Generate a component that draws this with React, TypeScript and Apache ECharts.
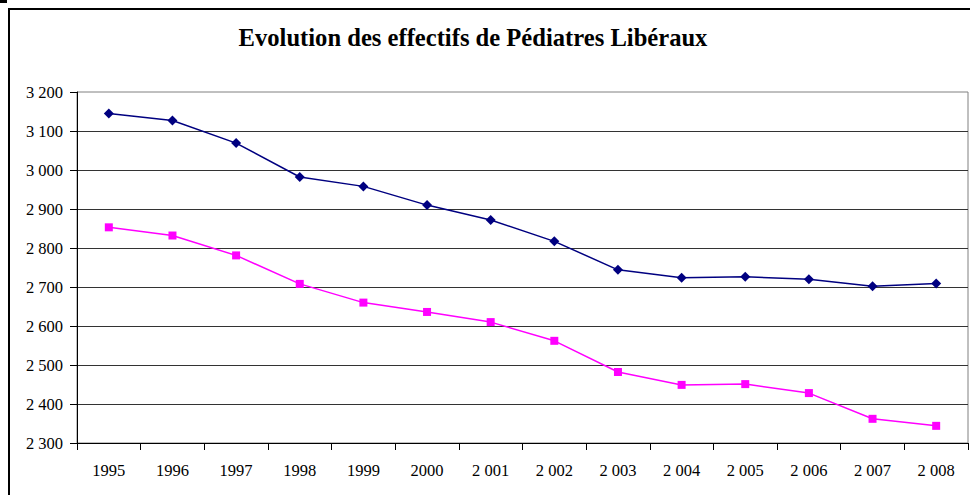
import React, { useEffect, useRef } from "react";
import * as echarts from "echarts";

const TITLE = "Evolution des effectifs de Pédiatres Libéraux";
const YEARS = ["1995", "1996", "1997", "1998", "1999", "2000", "2 001", "2 002", "2 003", "2 004", "2 005", "2 006", "2 007", "2 008"];
const SERIES_NAVY = [3145, 3127, 3069, 2982, 2958, 2910, 2872, 2817, 2744, 2724, 2726, 2720, 2702, 2709];
const SERIES_PINK = [2853, 2832, 2781, 2708, 2660, 2636, 2610, 2562, 2482, 2449, 2451, 2428, 2362, 2344];
const Y_MIN = 2300;
const Y_MAX = 3200;
const Y_STEP = 100;

const FONT = "Liberation Serif";

function fmt(v: number): string {
  const s = String(Math.round(v));
  return s.replace(/\B(?=(\d{3})+(?!\d))/g, " ");
}

export default function App() {
  const ref = useRef<HTMLDivElement>(null);
  useEffect(() => {
    if (!ref.current) return;
    const chart = echarts.init(ref.current, undefined, { renderer: "svg" });
    chart.setOption({
      animation: false,
      backgroundColor: "#ffffff",
      textStyle: { fontFamily: FONT },
      grid: {
        left: 77,
        top: 92,
        right: 2,
        bottom: 52,
        show: true,
        borderColor: "#808080",
        borderWidth: 1,
        backgroundColor: "transparent",
      },
      graphic: [
        {
          type: "rect",
          shape: { x: 9, y: 9, width: 1000, height: 520 },
          style: { fill: "none", stroke: "#000", lineWidth: 2 },
          z: 0,
          silent: true,
        },
        {
          type: "rect",
          shape: { x: 0, y: 0, width: 7, height: 3 },
          style: { fill: "#000" },
          silent: true,
        },
        {
          type: "text",
          x: 473,
          y: 37,
          style: {
            text: TITLE,
            fontFamily: FONT,
            fontWeight: "bold",
            fontSize: 24.6,
            fill: "#000",
            textAlign: "center",
            textVerticalAlign: "middle",
          },
          silent: true,
        },
      ],
      xAxis: {
        type: "category",
        data: YEARS,
        boundaryGap: true,
        axisLine: { show: true, lineStyle: { color: "#000", width: 1 } },
        axisTick: { show: true, length: 7, inside: false, lineStyle: { color: "#000" } },
        axisLabel: {
          margin: 19,
          fontFamily: FONT,
          fontSize: 16.5,
          color: "#000",
          interval: 0,
        },
        splitLine: { show: false },
      },
      yAxis: {
        type: "value",
        min: Y_MIN,
        max: Y_MAX,
        interval: Y_STEP,
        axisLine: { show: true, lineStyle: { color: "#000", width: 1 } },
        axisTick: { show: true, length: 7, inside: false, lineStyle: { color: "#000" } },
        axisLabel: {
          margin: 14,
          fontFamily: FONT,
          fontSize: 16.5,
          color: "#000",
          formatter: (v: number) => fmt(v),
        },
        splitLine: {
          show: true,
          showMaxLine: false,
          lineStyle: { color: "#333333", width: 1 },
        },
      },
      series: [
        {
          type: "line",
          data: SERIES_NAVY,
          symbol: "diamond",
          symbolSize: 10,
          lineStyle: { color: "#000080", width: 1.5 },
          itemStyle: { color: "#000080" },
        },
        {
          type: "line",
          data: SERIES_PINK,
          symbol: "rect",
          symbolSize: 8,
          lineStyle: { color: "#FF00FF", width: 1.5 },
          itemStyle: { color: "#FF00FF" },
        },
      ],
    });
    return () => chart.dispose();
  }, []);
  return (
    <div
      ref={ref}
      style={{ position: "fixed", left: 0, top: 0, width: 970, height: 495, background: "#fff" }}
    />
  );
}
